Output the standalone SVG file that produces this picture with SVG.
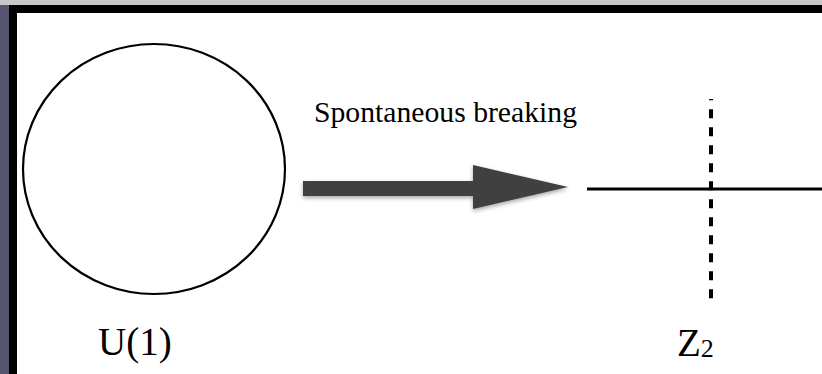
<svg xmlns="http://www.w3.org/2000/svg" width="822" height="374" viewBox="0 0 822 374">
  <style>
    .lbl { font-family: "Liberation Serif", "Times New Roman", serif; fill: #000; }
    .line { stroke: #000; fill: none; }
  </style>
  <defs>
    <filter id="shadow" x="-10%" y="-30%" width="120%" height="160%">
      <feDropShadow dx="0" dy="2" stdDeviation="2" flood-color="#000" flood-opacity="0.35"/>
    </filter>
  </defs>
  <g id="frame">
    <rect x="0" y="0" width="822" height="374" fill="#ffffff"/>
    <rect x="0" y="0" width="822" height="5" fill="#c8c8c8"/>
    <rect x="0" y="5" width="9" height="369" fill="#55556d"/>
    <rect x="9" y="5" width="813" height="8" fill="#000"/>
    <rect x="9" y="5" width="8" height="369" fill="#000"/>
  </g>
  <g id="u1-circle">
    <ellipse class="line" cx="154" cy="169" rx="131" ry="125" stroke-width="2.2"/>
    <text class="lbl" x="98" y="355" font-size="39">U(1)</text>
  </g>
  <g id="connectors">
    <polygon points="303,181 473,181 473,165 568,187 473,209 473,196 303,196" fill="#404040" filter="url(#shadow)"/>
    <text class="lbl" x="314" y="122" font-size="29" textLength="263" lengthAdjust="spacingAndGlyphs">Spontaneous breaking</text>
  </g>
  <g id="z2-axes">
    <line class="line" x1="587" y1="189" x2="822" y2="189" stroke-width="3"/>
    <line class="line" x1="711" y1="298.3" x2="711" y2="99" stroke-width="4" stroke-dasharray="9 9"/>
    <text class="lbl" x="677" y="356" font-size="39">Z<tspan font-size="26" dy="1">2</tspan></text>
  </g>
</svg>
